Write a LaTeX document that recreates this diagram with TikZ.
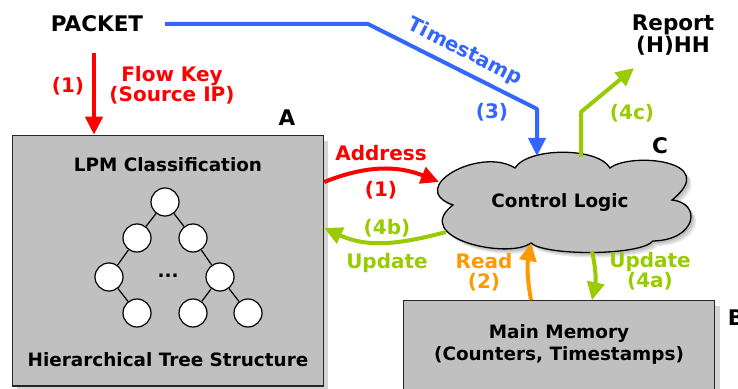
\documentclass[tikz,border=0pt]{standalone}
\usepackage{fontspec}
\setmainfont{DejaVu Sans}
\usetikzlibrary{arrows.meta}
\definecolor{cred}{HTML}{FF0000}
\definecolor{cblue}{HTML}{3366FF}
\definecolor{cgreen}{HTML}{99CC00}
\definecolor{corange}{HTML}{FF9900}
\definecolor{boxgray}{HTML}{C0C0C0}
\definecolor{shadowgray}{HTML}{D4D4D4}
\newcommand\mycloudpath{(453,183) .. controls (405,200) and (480,242) .. (515,220)
  .. controls (528,241) and (598,241) .. (610,220)
  .. controls (630,236) and (722,228) .. (672,188)
  .. controls (702,185) and (697,148) .. (653,147)
  .. controls (640,132) and (545,132) .. (531,145)
  .. controls (508,128) and (410,150) .. (453,183) -- cycle}
\begin{document}
\begin{tikzpicture}[x=1pt,y=1pt,
 every node/.style={inner sep=0pt},
 lbl/.style={font=\fontsize{20}{23}\selectfont\bfseries, align=center},
 blk/.style={font=\fontsize{18.4}{21}\selectfont\bfseries, align=center},
 big/.style={font=\fontsize{21.5}{24}\selectfont\bfseries, align=center},
 conn/.style={line width=4pt, -{Triangle[length=18pt,width=17pt]}},
 box/.style={draw=black!85, line width=1.3pt, fill=boxgray, anchor=south west},
 tn/.style={circle, draw=black, line width=1.2pt, fill=white, minimum size=28pt},
 tedge/.style={draw=black, line width=1.2pt},
]
\useasboundingbox (0,0) rectangle (738,388);
\fill[white] (0,0) rectangle (738,388);

% box shadows
\fill[shadowgray] (17,-10) rectangle (328,247);
\fill[shadowgray] (408,-10) rectangle (720,82);

% boxes
\node[box, minimum width=311pt, minimum height=250.5pt] (A) at (12,1.5) {};
\node[box, minimum width=311pt, minimum height=90pt] (B) at (403,-3.5) {};
\node[big] (Alab) at (287,270) {A};
\node[big] (Blab) at (736,70) {B};

\node[blk] (lpm) at (168,223) {LPM Classification};
\node[blk] (hts) at (168,28) {Hierarchical Tree Structure};
\node[blk] (mm) at (559,55) {Main Memory};
\node[blk] (cts) at (559,33) {(Counters, Timestamps)};

% tree
\node[tn] (t1) at (165,186) {};
\node[tn] (t2) at (137,150) {};
\node[tn] (t3) at (193,150) {};
\node[tn] (t4) at (109,111) {};
\node[tn] (t5) at (220,111) {};
\node[tn] (t6) at (137,75) {};
\node[tn] (t7) at (193,75) {};
\node[tn] (t8) at (248,75) {};
\draw[tedge] (t1) -- (t2);
\draw[tedge] (t1) -- (t3);
\draw[tedge] (t2) -- (t4);
\draw[tedge] (t3) -- (t5);
\draw[tedge] (t4) -- (t6);
\draw[tedge] (t5) -- (t7);
\draw[tedge] (t5) -- (t8);
\node[blk] (dots) at (168,112) {...};

% cloud
\foreach \s in {2,3.5,5}{
  \fill[black, opacity=0.09, shift={(\s,-\s)}] \mycloudpath;
}
\draw[fill=boxgray, draw=black, line width=1.3pt] \mycloudpath;
\node[blk] (ctl) at (560,186) {Control Logic};
\node[big] (Clab) at (660,242) {C};

% cloud connection points
\coordinate (cTopB) at (537,232);
\coordinate (cTopG) at (581,231);
\coordinate (cLeftR) at (439,206);
\coordinate (cLeftG) at (446,156);
\coordinate (cBotO) at (531,145);
\coordinate (cBotG) at (592,137);

% top texts
\node[big] (pk) at (97,364) {PACKET};
\node[big] (rep) at (673,353) {Report\\[-2pt](H)HH};

% connectors
\coordinate (fk) at (94,335);
\draw[conn, cred] (fk) -- (fk |- A.north);

\coordinate (ts0) at (165,364);
\coordinate (ts1) at (368,364);
\coordinate (ts2) at (537,279);
\draw[conn, cblue, line join=round] (ts0) -- (ts1) -- (ts2) -- (cTopB);

\coordinate (rp1) at (581,276);
\coordinate (rp2) at (634,320);
\draw[conn, cgreen, line join=round] (cTopG) -- (rp1) -- (rp2);

\draw[conn, cred] (A.east |- cLeftR) to[bend left=22] (cLeftR);
\draw[conn, cgreen] (cLeftG) to[out=195, in=-25] (A.east |- 0,160);
\draw[conn, corange] (B.north -| cBotO) to[bend left=10] (cBotO);
\draw[conn, cgreen] (cBotG) to[bend left=12] (B.north -| cBotG);

% labels
\node[lbl, text=cred] (l1) at (68,302) {(1)};
\node[lbl, text=cred] (fkl) at (172,303) {Flow Key\\[-3pt](Source IP)};
\node[lbl, text=cblue, rotate=-26.7] (tsl) at (465,336) {Timestamp};
\node[lbl, text=cblue] (l3) at (492,276) {(3)};
\node[lbl, text=cgreen] (l4c) at (632,275) {(4c)};
\node[lbl, text=cred] (adl) at (381,235) {Address};
\node[lbl, text=cred] (l1b) at (381,198) {(1)};
\node[lbl, text=cgreen] (l4b) at (387,160) {(4b)};
\node[lbl, text=cgreen] (upl) at (387,125) {Update};
\node[lbl, text=corange] (rdl) at (484,116) {Read\\[-3pt](2)};
\node[lbl, text=cgreen] (up4a) at (650,117) {Update\\[-3pt](4a)};
\end{tikzpicture}
\end{document}
